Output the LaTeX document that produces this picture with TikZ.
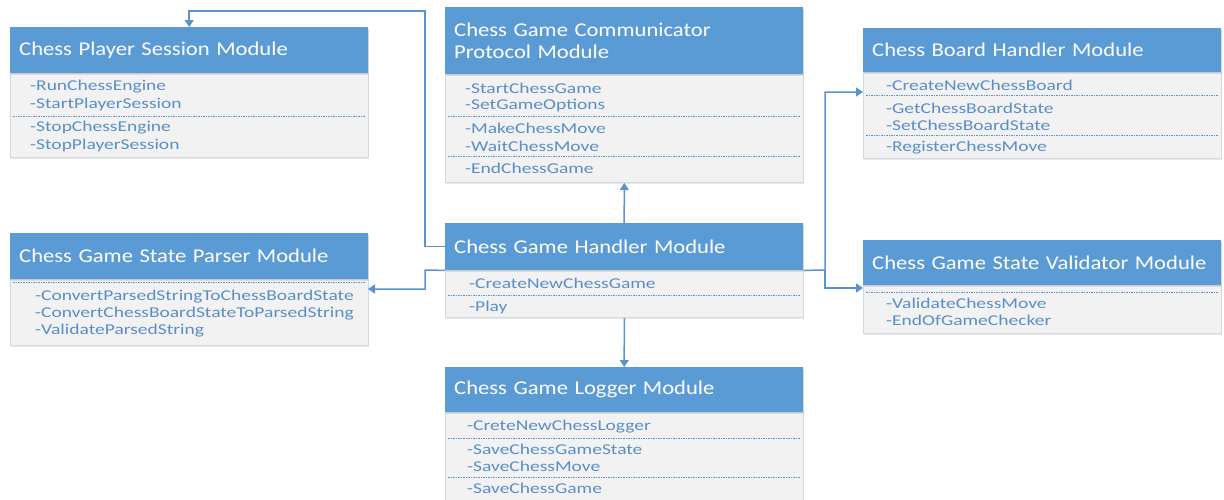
\documentclass[tikz,border=0pt]{standalone}
\usepackage{fontspec}
\setmainfont{Carlito}
\newfontfamily\hdrfont[FakeStretch=1.16]{Carlito}
\newfontfamily\itemfont[FakeStretch=1.3]{Carlito}
\usetikzlibrary{arrows.meta,shadows}
\definecolor{hdrblue}{HTML}{5B9BD5}
\definecolor{bodyfill}{HTML}{F2F2F2}
\definecolor{bodyline}{HTML}{D3D9E1}
\definecolor{itemblue}{HTML}{5A8ECA}
\definecolor{connblue}{HTML}{5B93CF}
\tikzset{
  hdr/.style={fill=hdrblue, draw=none, anchor=north west, inner xsep=9pt, inner ysep=0pt,
    text width=340pt, align=left, text=white, font=\hdrfont\fontsize{19.5}{22}\selectfont,
    drop shadow={opacity=0.18, shadow xshift=1pt, shadow yshift=-1.5pt}},
  bodybox/.style={fill=bodyfill, draw=bodyline, line width=0.6pt, anchor=north west,
    minimum width=358pt, inner sep=0pt,
    drop shadow={opacity=0.18, shadow xshift=1pt, shadow yshift=-1.5pt}},
  item/.style={anchor=west, inner sep=0pt, text=itemblue, font=\itemfont\fontsize{15}{17}\selectfont},
  sepline/.style={draw=connblue, line width=0.6pt, dash pattern=on 1.5pt off 1pt},
  conn/.style={draw=connblue, line width=1.5pt, -{Triangle[length=7pt,width=9pt]}},
  link/.style={draw=connblue, line width=1.5pt}
}
\newcommand\module[6]{%
  \node[hdr, minimum height=#4pt] (#1-h) at (#2,#3) {#6};
  \node[bodybox, minimum height=#5pt] (#1-b) at (#1-h.south west) {};
  \node[hdr, minimum height=#4pt, drop shadow={opacity=0}] at (#2,#3) {#6};
}
\begin{document}
\begin{tikzpicture}[x=1pt, y=-1pt]
\useasboundingbox (0,0) rectangle (1224,499);

% Player session
\module{P}{10}{27}{46}{84}{Chess Player Session Module}
\node[item] (p1) at (30,87) {-RunChessEngine};
\node[item] (p2) at (30,104) {-StartPlayerSession};
\draw[sepline] (13,116) -- (365,116);
\node[item] (p3) at (30,128) {-StopChessEngine};
\node[item] (p4) at (30,145) {-StopPlayerSession};

% Communicator
\module{C}{445}{7}{67}{108}{Chess Game Communicator\\Protocol Module}
\node[item] (c1) at (465,88) {-StartChessGame};
\node[item] (c2) at (465,106) {-SetGameOptions};
\draw[sepline] (448,116) -- (800,116);
\node[item] (c3) at (465,128) {-MakeChessMove};
\node[item] (c4) at (465,146) {-WaitChessMove};
\draw[sepline] (448,156) -- (800,156);
\node[item] (c5) at (465,168) {-EndChessGame};

% Board handler
\module{B}{863}{28}{44}{86}{Chess Board Handler Module}
\node[item] (b1) at (886,85) {-CreateNewChessBoard};
\draw[sepline] (866,95) -- (1218,95);
\node[item] (b2) at (886,108) {-GetChessBoardState};
\node[item] (b3) at (886,125) {-SetChessBoardState};
\draw[sepline] (866,135) -- (1218,135);
\node[item] (b4) at (886,148) {-RegisterChessMove};

% Parser
\module{S}{10}{233}{46}{66}{Chess Game State Parser Module}
\draw[sepline] (13,282) -- (365,282);
\node[item] (s1) at (35,297) {-ConvertParsedStringToChessBoardState};
\node[item] (s2) at (35,314) {-ConvertChessBoardStateToParsedString};
\node[item] (s3) at (35,331) {-ValidateParsedString};

% Handler
\module{H}{445}{223}{47}{47}{Chess Game Handler Module}
\node[item] (h1) at (469,283) {-CreateNewChessGame};
\draw[sepline] (448,295) -- (800,295);
\node[item] (h2) at (469,307) {-Play};

% Validator
\module{V}{863}{240}{45}{48}{Chess Game State Validator Module}
\draw[sepline] (866,292) -- (1218,292);
\node[item] (v1) at (886,303) {-ValidateChessMove};
\node[item] (v2) at (886,320) {-EndOfGameChecker};

% Logger
\module{L}{445}{367}{45}{140}{Chess Game Logger Module}
\node[item] (l1) at (467,427) {-CreteNewChessLogger};
\draw[sepline] (448,438) -- (800,438);
\node[item] (l2) at (467,449) {-SaveChessGameState};
\node[item] (l3) at (467,466) {-SaveChessMove};
\draw[sepline] (448,477) -- (800,477);
\node[item] (l4) at (467,488) {-SaveChessGame};

% connectors
\coordinate (k1) at (425,11);
\coordinate (k2) at (425,270);
\coordinate (sIn) at (368,289);
\coordinate (k3) at (825,270);
\coordinate (bIn) at (863,92);
\coordinate (vIn) at (863,288);

\draw[conn] (H-h.west) -| (k1) -| (P-h.north);
\draw[conn] (H-b.north west) -- (k2) |- (sIn);
\draw[conn] (H-b.north east) -- (k3) |- (bIn);
\draw[conn] (k3) |- (vIn);
\draw[conn] (H-h.north) -- (C-b.south);
\draw[conn] (H-b.south) -- (L-h.north);
\end{tikzpicture}
\end{document}
